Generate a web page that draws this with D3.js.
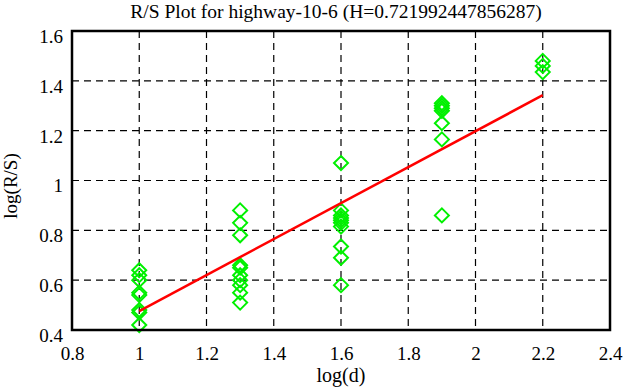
<!DOCTYPE html>
<html>
<head>
<meta charset="utf-8">
<script src="https://cdn.jsdelivr.net/npm/d3@7"></script>
<style>
  html, body { margin: 0; padding: 0; background: #fff; }
  svg { display: block; }
  svg text { font-family: "Liberation Serif", "DejaVu Serif", serif !important; fill: #000; }
</style>
</head>
<body>
<svg id="chart" width="626" height="387"></svg>
<script>
// ---- data ----
const titleText = "R/S Plot for highway-10-6 (H=0.721992447856287)";
const xLabel = "log(d)";
const yLabel = "log(R/S)";
const logD = [1, 1.3, 1.6, 1.9, 2.2];
const logRS = [
  [0.64, 0.62, 0.60, 0.55, 0.54, 0.48, 0.47, 0.42],
  [0.88, 0.83, 0.78, 0.66, 0.65, 0.62, 0.60, 0.58, 0.55, 0.51],
  [1.07, 0.88, 0.86, 0.85, 0.84, 0.83, 0.815, 0.735, 0.69, 0.58],
  [1.31, 1.30, 1.29, 1.28, 1.23, 1.165, 0.86],
  [1.48, 1.46, 1.435]
];
const slopeH = 0.721992447856287;
const intercept = -0.246;
const fitRange = [1, 2.2];
const xTicks = [0.8, 1, 1.2, 1.4, 1.6, 1.8, 2, 2.2, 2.4];
const yTicks = [0.4, 0.6, 0.8, 1, 1.2, 1.4, 1.6];

// ---- layout ----
const svg = d3.select("#chart");
const L = 72, R = 610, T = 31, B = 330;
const x = d3.scaleLinear().domain([0.8, 2.4]).range([L, R]);
const y = d3.scaleLinear().domain([0.4, 1.6]).range([B, T]);
const FONT = "Liberation Serif";

// grid
const grid = svg.append("g");
grid.selectAll("line.vx").data(xTicks.slice(1, -1)).enter().append("line")
  .attr("x1", d => x(d)).attr("x2", d => x(d)).attr("y1", T).attr("y2", B)
  .attr("stroke", "#000").attr("stroke-width", 1.2).attr("stroke-dasharray", "7,5");
grid.selectAll("line.hy").data(yTicks.slice(1, -1)).enter().append("line")
  .attr("y1", d => y(d)).attr("y2", d => y(d)).attr("x1", L).attr("x2", R)
  .attr("stroke", "#000").attr("stroke-width", 1.2).attr("stroke-dasharray", "7,5");

// axes (labels only, via d3 axes)
const xAxis = svg.append("g").attr("transform", `translate(0,${B})`)
  .call(d3.axisBottom(x).tickValues(xTicks).tickSize(0).tickPadding(14).tickFormat(d3.format("")));
const yAxis = svg.append("g").attr("transform", `translate(${L},0)`)
  .call(d3.axisLeft(y).tickValues(yTicks).tickSize(0).tickPadding(9).tickFormat(d3.format("")));
[xAxis, yAxis].forEach(g => {
  g.attr("font-family", FONT).attr("font-size", 19);
  g.select(".domain").remove();
  g.selectAll("text").attr("font-family", FONT).attr("font-size", 19).attr("fill", "#000");
});
yAxis.selectAll("text").attr("dy", "0.6em");
xAxis.selectAll("text").attr("dy", "0.85em");

// data points (diamonds)
const pts = [];
logD.forEach((d, i) => logRS[i].forEach(v => pts.push([d, v])));
const s = 7;
svg.append("g").selectAll("path").data(pts).enter().append("path")
  .attr("d", d => {
    const cx = x(d[0]), cy = y(d[1]);
    return `M${cx},${cy - s}L${cx + s},${cy}L${cx},${cy + s}L${cx - s},${cy}Z`;
  })
  .attr("fill", "none").attr("stroke", "#00f000").attr("stroke-width", 2);

// fit line
svg.append("path")
  .datum(fitRange)
  .attr("d", d3.line().x(d => x(d)).y(d => y(slopeH * d + intercept)))
  .attr("stroke", "#ff0000").attr("stroke-width", 2.5).attr("fill", "none");

// frame
svg.append("rect").attr("x", L).attr("y", T).attr("width", R - L).attr("height", B - T)
  .attr("fill", "none").attr("stroke", "#000").attr("stroke-width", 2.5);

// title and axis labels
svg.append("text").attr("x", 336).attr("y", 18).attr("text-anchor", "middle")
  .attr("font-family", FONT).attr("font-size", 19.5).text(titleText);
svg.append("text").attr("x", 341).attr("y", 382).attr("text-anchor", "middle")
  .attr("font-family", FONT).attr("font-size", 20).text(xLabel);
svg.append("text").attr("transform", `translate(17,186) rotate(-90)`)
  .attr("text-anchor", "middle").attr("font-family", FONT).attr("font-size", 19).text(yLabel);
</script>
</body>
</html>
